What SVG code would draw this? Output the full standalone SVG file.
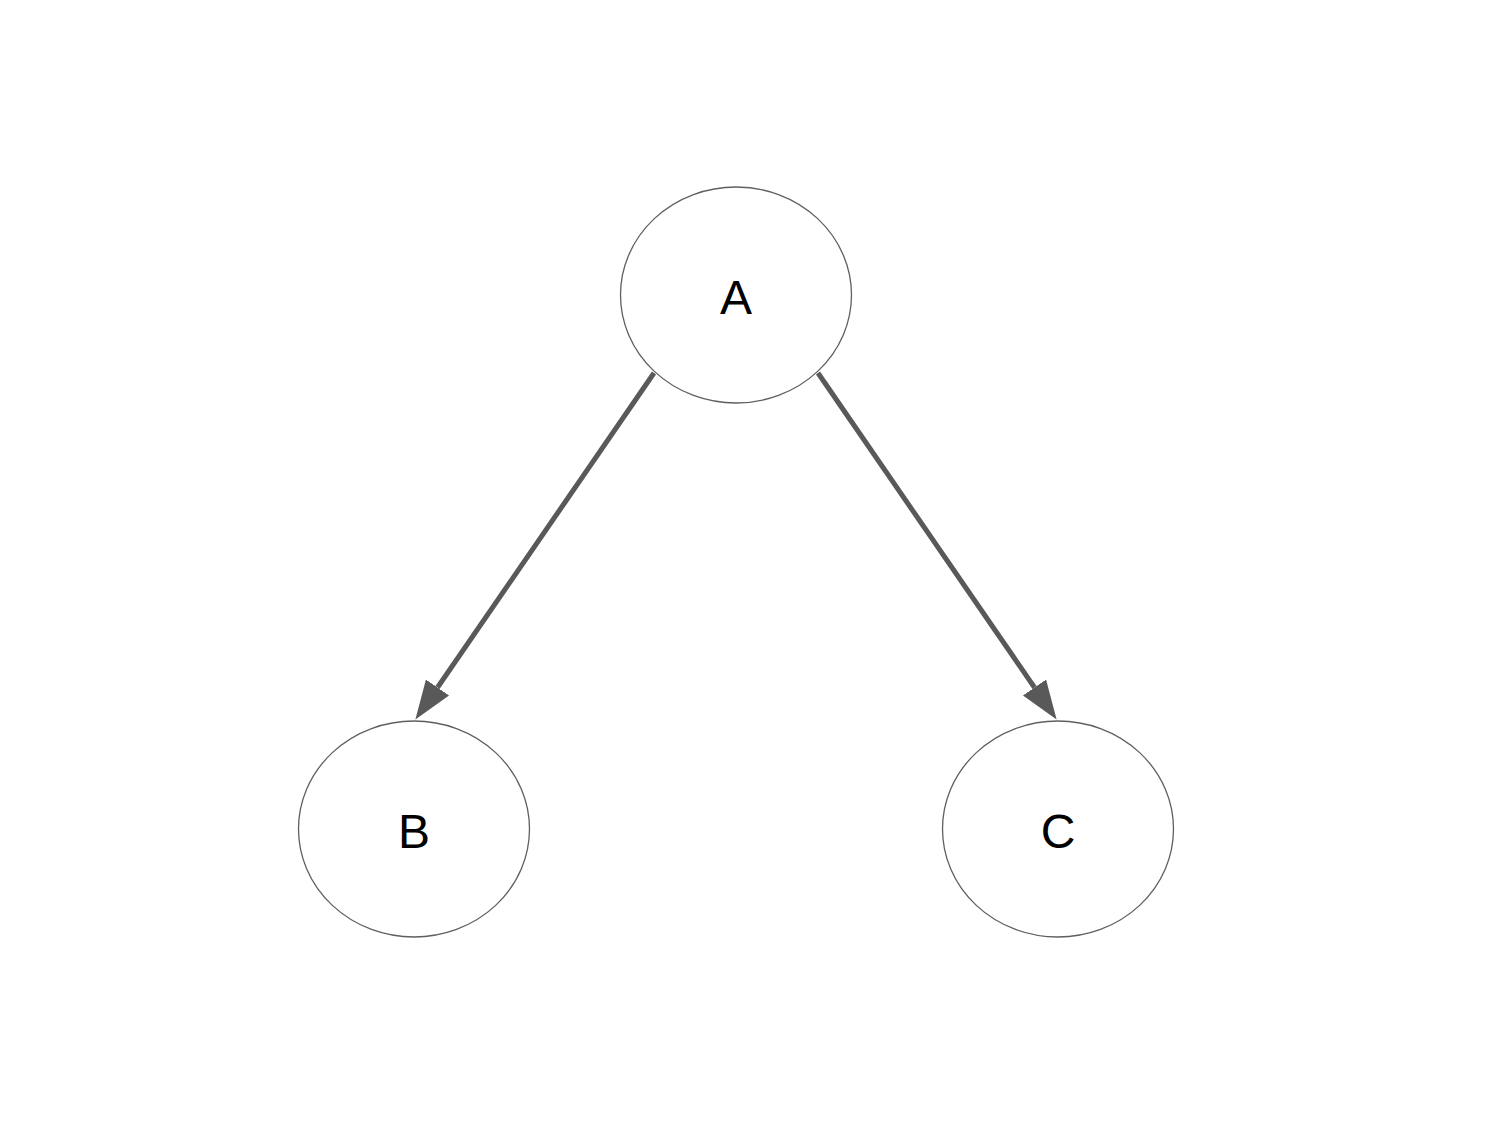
<svg xmlns="http://www.w3.org/2000/svg" width="1500" height="1125" viewBox="0 0 1500 1125">
<style>
.node ellipse{fill:#ffffff;stroke:#5f5f5f;stroke-width:1.3}
.node text{font-family:"Liberation Sans",Arial,sans-serif;font-size:48px;fill:#000000;text-anchor:middle}
.edge{stroke:#595959;stroke-width:5;fill:none}
</style>
<defs>
<marker id="arrow" markerUnits="userSpaceOnUse" markerWidth="42" markerHeight="32" viewBox="0 -16 42 32" refX="0" refY="0" orient="auto">
<path d="M0,-14 L39,0 L0,14 z" fill="#595959"/>
</marker>
</defs>
<rect width="1500" height="1125" fill="#ffffff"/>
<g id="connectors">
<line class="edge" x1="654" y1="373" x2="437.5" y2="687.5" marker-end="url(#arrow)"/>
<line class="edge" x1="818" y1="373" x2="1034.5" y2="687.5" marker-end="url(#arrow)"/>
</g>
<g id="node-A" class="node">
<ellipse cx="736" cy="295" rx="115.5" ry="108"/>
<text x="736" y="314">A</text>
</g>
<g id="node-B" class="node">
<ellipse cx="414" cy="829" rx="115.5" ry="108"/>
<text x="414" y="848">B</text>
</g>
<g id="node-C" class="node">
<ellipse cx="1058" cy="829" rx="115.5" ry="108"/>
<text x="1058" y="848">C</text>
</g>
</svg>
